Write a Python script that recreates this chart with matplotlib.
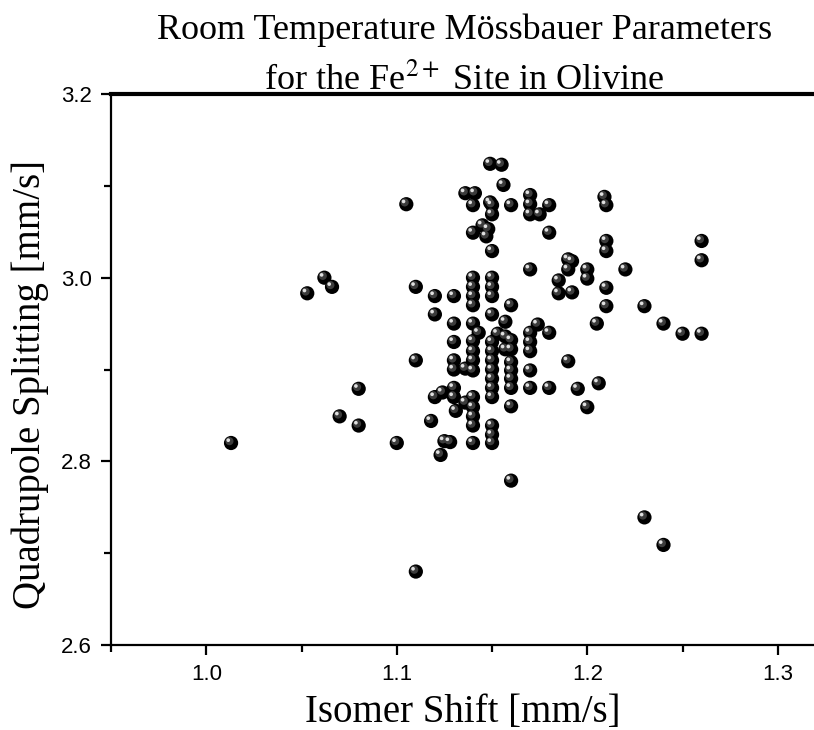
import matplotlib
matplotlib.use("Agg")
import matplotlib.pyplot as plt
from matplotlib.ticker import MultipleLocator
from matplotlib.transforms import offset_copy

# Isomer shift / quadrupole splitting for Fe2+ in olivine
isomer_shift = [
    1.013, 1.053, 1.062, 1.066, 1.070, 1.080, 1.080, 1.100, 1.105, 1.110,
    1.110, 1.110, 1.118, 1.120, 1.120, 1.120, 1.124, 1.123, 1.125, 1.128,
    1.130, 1.130, 1.130, 1.130, 1.130, 1.130, 1.130, 1.131, 1.136, 1.136,
    1.136, 1.140, 1.140, 1.140, 1.140, 1.140, 1.140, 1.140, 1.140, 1.140,
    1.140, 1.140, 1.140, 1.140, 1.140, 1.140, 1.140, 1.141, 1.143, 1.145,
    1.147, 1.148, 1.149, 1.149, 1.150, 1.150, 1.150, 1.150, 1.150, 1.150,
    1.150, 1.150, 1.150, 1.150, 1.150, 1.150, 1.150, 1.150, 1.150, 1.150,
    1.150, 1.153, 1.155, 1.156, 1.157, 1.157, 1.157, 1.160, 1.160, 1.160,
    1.160, 1.160, 1.160, 1.160, 1.160, 1.160, 1.160, 1.170, 1.170, 1.170,
    1.170, 1.170, 1.170, 1.170, 1.170, 1.170, 1.174, 1.175, 1.180, 1.180,
    1.180, 1.180, 1.185, 1.185, 1.190, 1.190, 1.190, 1.192, 1.192, 1.195,
    1.200, 1.200, 1.200, 1.205, 1.206, 1.209, 1.210, 1.210, 1.210, 1.210,
    1.210, 1.220, 1.230, 1.230, 1.240, 1.240, 1.250, 1.260, 1.260, 1.260,
]
quad_split = [
    2.820, 2.983, 3.000, 2.990, 2.849, 2.879, 2.839, 2.820, 3.080, 2.990,
    2.910, 2.680, 2.844, 2.980, 2.960, 2.870, 2.875, 2.807, 2.822, 2.821,
    2.980, 2.950, 2.930, 2.910, 2.900, 2.880, 2.870, 2.855, 3.092, 2.901,
    2.864, 3.079, 3.049, 3.000, 2.990, 2.980, 2.970, 2.950, 2.931, 2.920,
    2.910, 2.899, 2.870, 2.859, 2.849, 2.839, 2.820, 3.092, 2.940, 3.057,
    3.045, 3.053, 3.124, 3.082, 3.079, 3.069, 3.029, 3.000, 2.990, 2.980,
    2.960, 2.930, 2.920, 2.910, 2.900, 2.890, 2.880, 2.870, 2.839, 2.829,
    2.820, 2.939, 3.123, 3.101, 2.952, 2.936, 2.922, 3.079, 2.970, 2.932,
    2.922, 2.908, 2.899, 2.890, 2.880, 2.860, 2.779, 3.090, 3.080, 3.069,
    3.009, 2.940, 2.930, 2.920, 2.899, 2.880, 2.949, 3.069, 3.079, 3.049,
    2.940, 2.880, 2.997, 2.983, 3.020, 3.009, 2.909, 3.018, 2.984, 2.879,
    3.009, 2.999, 2.859, 2.950, 2.885, 3.088, 3.079, 3.040, 3.029, 2.989,
    2.969, 3.009, 2.969, 2.739, 2.950, 2.709, 2.939, 3.040, 3.019, 2.939,
]

SERIF = ["Liberation Serif", "DejaVu Serif"]
plt.rcParams["font.family"] = ["Liberation Sans", "DejaVu Sans"]
plt.rcParams["mathtext.fontset"] = "stix"

fig = plt.figure(figsize=(8.14, 7.30), dpi=100)
ax = fig.add_axes([0.1364, 0.1164, 0.8636, 0.7548])

# shiny black spheres: dark body + soft sheen + small highlight
ax.scatter(isomer_shift, quad_split, s=105, c="black", edgecolors="none", zorder=3)
sheen = offset_copy(ax.transData, fig=fig, x=-1.6, y=1.8, units="dots")
ax.scatter(isomer_shift, quad_split, s=34, c="#3c3c3c", edgecolors="none",
           transform=sheen, zorder=4)
hl = offset_copy(ax.transData, fig=fig, x=-2.8, y=2.8, units="dots")
ax.scatter(isomer_shift, quad_split, s=7, c="#e0e0e0", edgecolors="none",
           transform=hl, zorder=5)

ax.set_xlim(0.95, 1.319)
ax.set_ylim(2.6, 3.2)
ax.xaxis.set_major_locator(MultipleLocator(0.1))
ax.xaxis.set_minor_locator(MultipleLocator(0.05))
ax.yaxis.set_major_locator(MultipleLocator(0.2))
ax.yaxis.set_minor_locator(MultipleLocator(0.1))
ax.xaxis.set_major_formatter(lambda v, p: f"{v:.1f}")
ax.yaxis.set_major_formatter(lambda v, p: f"{v:.1f}")

ax.spines["right"].set_visible(False)
ax.spines["top"].set_linewidth(3.0)
ax.spines["left"].set_linewidth(1.6)
ax.spines["bottom"].set_linewidth(1.6)
ax.tick_params(which="both", direction="out", width=1.6, top=False, right=False)
ax.tick_params(which="major", length=7, labelsize=16, pad=7)
ax.tick_params(which="minor", length=5)

ax.set_xlabel("Isomer Shift [mm/s]", family=SERIF, fontsize=28, va="center")
ax.set_ylabel("Quadrupole Splitting [mm/s]", family=SERIF, fontsize=28, va="center")
ax.xaxis.set_label_coords(0.5, -0.122)
ax.yaxis.set_label_coords(-0.115, 0.472)

fig.text(0.5705, 0.958, "Room Temperature Mössbauer Parameters",
         family=SERIF, fontsize=26, ha="center", va="center")
fig.text(0.5705, 0.889, "for the Fe$^{2+}$ Site in Olivine",
         family=SERIF, fontsize=26, ha="center", va="center")

fig.savefig("out.png", dpi=100)
